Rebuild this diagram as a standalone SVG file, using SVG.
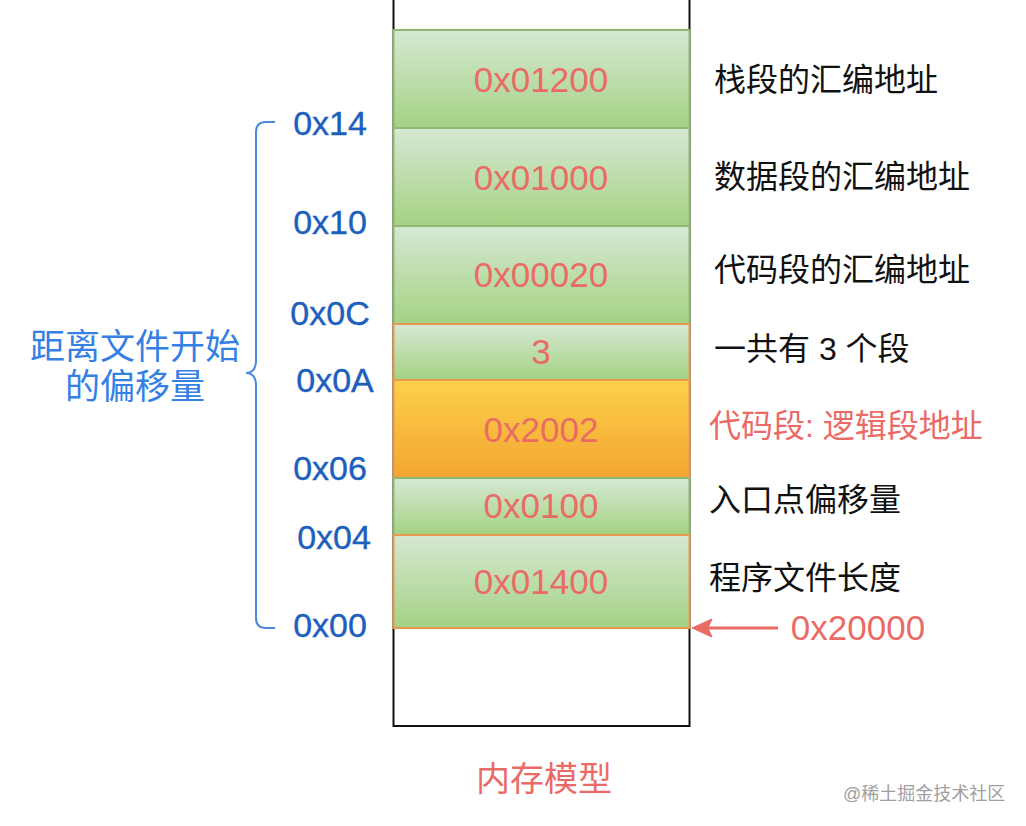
<svg xmlns="http://www.w3.org/2000/svg" width="1026" height="826" viewBox="0 0 1026 826">
  <style>
    .hex { font-family: "Liberation Sans", Arial, sans-serif; font-size: 35px; fill: #ea6b66; text-anchor: middle; }
    .off { font-family: "Liberation Sans", Arial, sans-serif; font-size: 34px; fill: #1d5fbd; text-anchor: middle; stroke: #1d5fbd; stroke-width: 0.4; }
    .lbl { font-family: "Liberation Sans", "Noto Sans CJK SC", sans-serif; font-size: 32px; fill: #111111; }
    .red { fill: #ea6b66; }
    .side { font-family: "Liberation Sans", "Noto Sans CJK SC", sans-serif; font-size: 35px; fill: #3580e5; text-anchor: middle; }
    .g { fill: url(#green); stroke: #8fb872; stroke-width: 2; }
    .go { fill: url(#green); stroke: #e8984e; stroke-width: 2; }
    .o { fill: url(#orange); stroke: #e8984e; stroke-width: 2; }
  </style>
  <defs>
    <linearGradient id="green" x1="0" y1="0" x2="0" y2="1">
      <stop offset="0" stop-color="#d6e8d3"/>
      <stop offset="1" stop-color="#a4d283"/>
    </linearGradient>
    <linearGradient id="orange" x1="0" y1="0" x2="0" y2="1">
      <stop offset="0" stop-color="#fdd04a"/>
      <stop offset="1" stop-color="#f3a531"/>
    </linearGradient>
  </defs>
  <rect width="1026" height="826" fill="#ffffff"/>

  <g id="memory">
    <rect x="393.5" y="-10" width="296" height="736" fill="#ffffff" stroke="#111111" stroke-width="2"/>
  </g>
  <g id="seg-stack"><rect class="g" x="393.5" y="30" width="296" height="98"/><text class="hex" x="541" y="92">0x01200</text></g>
  <g id="seg-data"><rect class="g" x="393.5" y="128" width="296" height="98"/><text class="hex" x="541" y="190">0x01000</text></g>
  <g id="seg-code"><rect class="g" x="393.5" y="226" width="296" height="98"/><text class="hex" x="541" y="287">0x00020</text></g>
  <g id="seg-count"><rect class="go" x="393.5" y="324" width="296" height="56"/><text class="hex" x="541" y="364">3</text></g>
  <g id="seg-logic"><rect class="o" x="393.5" y="380" width="296" height="98"/><text class="hex" x="541" y="442">0x2002</text></g>
  <g id="seg-entry"><rect class="g" x="393.5" y="478" width="296" height="57"/><text class="hex" x="541" y="518">0x0100</text></g>
  <g id="seg-length"><rect class="go" x="393.5" y="535" width="296" height="93"/><text class="hex" x="541" y="594">0x01400</text></g>

  <g id="offsets">
    <text class="off" x="330" y="135">0x14</text>
    <text class="off" x="330" y="234">0x10</text>
    <text class="off" x="330" y="325">0x0C</text>
    <text class="off" x="335" y="392">0x0A</text>
    <text class="off" x="330" y="480">0x06</text>
    <text class="off" x="334" y="549">0x04</text>
    <text class="off" x="330" y="637">0x00</text>
  </g>

  <g id="labels">
    <text class="lbl" x="714" y="91">栈段的汇编地址</text>
    <text class="lbl" x="714" y="188">数据段的汇编地址</text>
    <text class="lbl" x="714" y="281">代码段的汇编地址</text>
    <text class="lbl" x="714" y="360">一共有 3 个段</text>
    <text class="lbl red" x="709" y="437">代码段: 逻辑段地址</text>
    <text class="lbl" x="709" y="511">入口点偏移量</text>
    <text class="lbl" x="709" y="589">程序文件长度</text>
  </g>

  <g id="brace-label">
    <path d="M275 122 H266 Q256 122 256 132 V360 Q256 373 246 373 Q256 373 256 386 V618 Q256 628 266 628 H275" fill="none" stroke="#4a89dc" stroke-width="2"/>
    <text class="side" x="135" y="359">距离文件开始</text>
    <text class="side" x="135" y="399">的偏移量</text>
  </g>

  <g id="connectors">
    <line x1="778" y1="628" x2="708" y2="628" stroke="#ea6b66" stroke-width="3"/>
    <polygon points="692,628 712,619 708,628 712,637" fill="#ea6b66" stroke="#ea6b66" stroke-width="1"/>
  </g>
  <g id="addr">
    <text class="hex" x="858" y="640">0x20000</text>
  </g>

  <g id="title">
    <text x="544" y="791" font-family="Liberation Sans, Noto Sans CJK SC, sans-serif" font-size="34" fill="#ea6b66" text-anchor="middle">内存模型</text>
  </g>
  <text x="843" y="800" font-family="Liberation Sans, Noto Sans CJK SC, sans-serif" font-size="18" fill="#a0a0a0">@稀土掘金技术社区</text>
</svg>
